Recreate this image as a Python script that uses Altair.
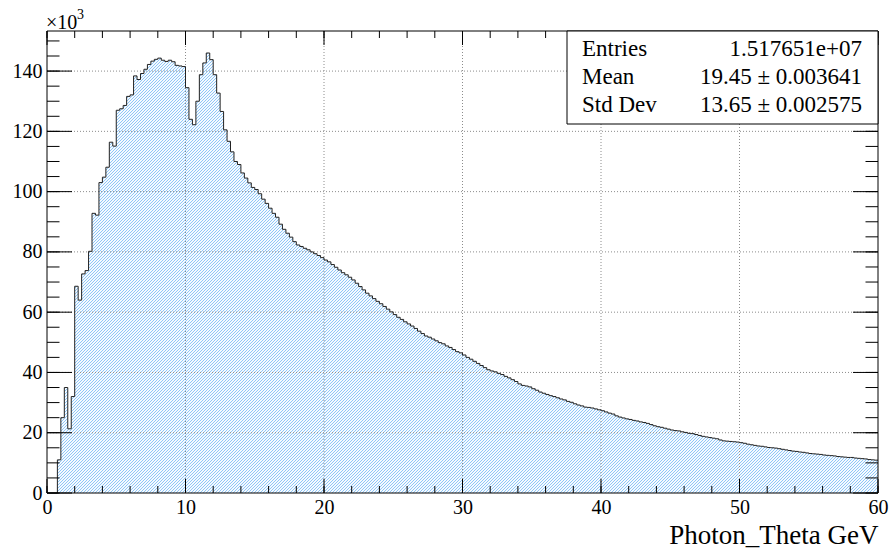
import altair as alt
import pandas as pd

# ---------------- data ----------------
bin_width = 0.25
x_min, x_max = 0.0, 60.0
y_top = 153300

# bin contents (thousands of entries), 240 bins of 0.25 from 0 to 60
counts_k = [
    0, 0, 0, 11.0, 25.0, 35.0, 21.3, 32.0, 68.6, 64.0,
    72.7, 73.8, 80.2, 92.8, 92.2, 103.0, 104.8, 108.1, 116.4, 115.1,
    127.0, 127.5, 128.6, 131.6, 132.1, 138.4, 137.2, 139.2, 140.6, 142.2,
    143.3, 143.9, 144.3, 143.6, 143.2, 143.6, 143.1, 141.9, 141.7, 141.5,
    134.5, 124.0, 122.2, 130.0, 138.8, 142.7, 146.0, 143.8, 138.8, 132.7,
    126.6, 120.5, 116.7, 113.2, 110.0, 109.0, 106.2, 104.5, 102.9, 101.4,
    100.7, 99.3, 97.5, 96.1, 94.5, 92.8, 91.5, 89.2, 87.5, 86.2,
    84.9, 83.4, 82.3, 81.8, 81.2, 80.7, 80.0, 79.4, 78.8, 78.1,
    77.3, 76.7, 75.8, 74.9, 74.0, 73.1, 72.4, 71.6, 70.7, 69.6,
    68.5, 67.4, 66.3, 65.4, 64.5, 63.6, 62.8, 61.9, 61.0, 60.1,
    59.2, 58.3, 57.6, 56.8, 56.1, 55.4, 54.6, 53.7, 52.9, 52.1,
    51.7, 51.1, 50.5, 49.9, 49.5, 48.8, 48.3, 47.6, 46.9, 46.5,
    45.8, 45.0, 44.4, 43.7, 43.0, 42.3, 41.6, 40.9, 40.5, 40.2,
    39.7, 39.3, 38.7, 38.2, 37.6, 37.0, 36.2, 35.7, 35.5, 35.2,
    34.6, 34.1, 33.5, 33.1, 32.7, 32.3, 32.0, 31.6, 31.2, 30.9,
    30.4, 30.1, 29.6, 29.2, 28.9, 28.5, 28.4, 28.2, 27.9, 27.6,
    27.3, 26.9, 26.5, 26.2, 25.6, 25.2, 24.9, 24.6, 24.4, 24.1,
    23.9, 23.6, 23.4, 23.1, 22.7, 22.3, 22.0, 21.8, 21.5, 21.2,
    20.9, 20.7, 20.6, 20.3, 20.1, 19.8, 19.7, 19.4, 19.1, 18.8,
    18.6, 18.4, 18.2, 18.0, 17.6, 17.3, 17.2, 17.1, 17.0, 16.9,
    16.7, 16.5, 16.2, 16.0, 15.8, 15.6, 15.5, 15.3, 15.1, 15.0,
    14.9, 14.7, 14.5, 14.3, 14.1, 13.9, 13.8, 13.6, 13.5, 13.3,
    13.1, 13.0, 12.9, 12.8, 12.6, 12.5, 12.4, 12.3, 12.1, 12.0,
    11.9, 11.8, 11.8, 11.6, 11.5, 11.4, 11.3, 11.1, 11.0, 10.9,
]

x_major = [0, 10, 20, 30, 40, 50, 60]
x_minor = list(range(0, 61, 2))
y_major = [0, 20000, 40000, 60000, 80000, 100000, 120000, 140000]
y_minor = list(range(0, 150001, 5000))
grid_x = [10, 20, 30, 40, 50]
grid_y = [20000, 40000, 60000, 80000, 100000, 120000, 140000]

stat_names = ["Entries", "Mean", "Std Dev"]
stat_values = ["1.517651e+07", "19.45 \u00b1 0.003641", "13.65 \u00b1 0.002575"]
x_title = "Photon_Theta GeV"
exp_base = "\u00d710"
exp_power = "3"

# ---------------- layout / style ----------------
W, H = 831, 462
FONT = "Liberation Serif"
HATCH = "#8fc6f6"
HATCH_BG = "#f5faff"
HATCH_STEP = 3  # px between hatch lines, measured horizontally

edges = [i * bin_width for i in range(len(counts_k))]
hist = pd.DataFrame({
    "x": edges + [x_max],
    "y": [c * 1000 for c in counts_k] + [counts_k[-1] * 1000],
})

xscale = alt.Scale(domain=[x_min, x_max], nice=False, zero=False)
yscale = alt.Scale(domain=[0, y_top], nice=False, zero=False)

x_axis = alt.Axis(values=x_major, ticks=False, domain=False, grid=False,
                  labelFont=FONT, labelFontSize=20, labelColor="black",
                  labelPadding=4, labelFlush=False, labelOverlap=False,
                  labelBound=False,
                  title=x_title, titleFont=FONT, titleFontSize=27,
                  titleFontWeight="normal", titleColor="black",
                  titleAnchor="end", titleAlign="right", titleX=W, titleY=50,
                  titleBaseline="alphabetic")
y_axis = alt.Axis(values=y_major, ticks=False, domain=False, grid=False,
                  labelFont=FONT, labelFontSize=20, labelColor="black",
                  labelPadding=5, labelFlush=False, labelOverlap=False,
                  labelExpr="format(datum.value / 1000, 'd')", title=None)

# fill-style hatch: a faint tint plus a texture of "///" strokes over the frame
# (pixel space), masked above the histogram by a white area
one = pd.DataFrame({"k": [0]})
tint = alt.Chart(one).mark_rect(color=HATCH_BG).encode(
    x=alt.value(0), x2=alt.value(W), y=alt.value(0), y2=alt.value(H))

offsets = list(range(-H, W + HATCH_STEP, HATCH_STEP))
hatch_df = pd.DataFrame({
    "hx": offsets, "hx2": [o + H for o in offsets],
})
hatch = alt.Chart(hatch_df).mark_rule(stroke=HATCH, strokeWidth=1, clip=True).encode(
    x=alt.X("hx:Q", scale=None), x2="hx2:Q",
    y=alt.value(H), y2=alt.value(0))

mask = alt.Chart(hist).mark_area(interpolate="step-after", color="white").encode(
    x=alt.X("x:Q", scale=xscale, axis=x_axis),
    y=alt.Y("y:Q", scale=yscale, axis=y_axis),
    y2=alt.datum(y_top),
)

grid_dash = [1, 2]
gx = alt.Chart(pd.DataFrame({"x": grid_x})).mark_rule(
    color="#8c8c8c", strokeWidth=1, strokeDash=grid_dash).encode(
    x="x:Q", y=alt.value(0), y2=alt.value(H))
gy = alt.Chart(pd.DataFrame({"y": grid_y})).mark_rule(
    color="#8c8c8c", strokeWidth=1, strokeDash=grid_dash).encode(
    y="y:Q", x=alt.value(0), x2=alt.value(W))

outline = alt.Chart(hist).mark_line(interpolate="step-after", color="#222222",
                                    strokeWidth=1).encode(x="x:Q", y="y:Q")

def xticks(vals, length):
    d = pd.DataFrame({"x": vals})
    bot = alt.Chart(d).mark_rule(color="black", strokeWidth=1).encode(
        x="x:Q", y=alt.value(H), y2=alt.value(H - length))
    top = alt.Chart(d).mark_rule(color="black", strokeWidth=1).encode(
        x="x:Q", y=alt.value(0), y2=alt.value(length))
    return [bot, top]

def yticks(vals, length):
    d = pd.DataFrame({"y": vals})
    left = alt.Chart(d).mark_rule(color="black", strokeWidth=1).encode(
        y="y:Q", x=alt.value(0), x2=alt.value(length))
    right = alt.Chart(d).mark_rule(color="black", strokeWidth=1).encode(
        y="y:Q", x=alt.value(W), x2=alt.value(W - length))
    return [left, right]

ticks = xticks(x_major, 14) + xticks(x_minor, 7) + yticks(y_major, 25) + yticks(y_minor, 12.5)

frame = alt.Chart(one).mark_rect(filled=False, stroke="black", strokeWidth=1).encode(
    x=alt.value(0), x2=alt.value(W), y=alt.value(0), y2=alt.value(H))

box_left, box_bottom = 520, 93
stat_box = alt.Chart(one).mark_rect(fill="white", stroke="black", strokeWidth=1).encode(
    x=alt.value(box_left), x2=alt.value(W), y=alt.value(0), y2=alt.value(box_bottom))

row_y = [25, 53, 81]
stat_texts = []
for name, val, yy in zip(stat_names, stat_values, row_y):
    stat_texts.append(alt.Chart(pd.DataFrame({"t": [name]})).mark_text(
        font=FONT, fontSize=23, align="left", baseline="alphabetic", color="black").encode(
        text="t:N", x=alt.value(535), y=alt.value(yy)))
    stat_texts.append(alt.Chart(pd.DataFrame({"t": [val]})).mark_text(
        font=FONT, fontSize=23, align="right", baseline="alphabetic", color="black").encode(
        text="t:N", x=alt.value(815), y=alt.value(yy)))

exp1 = alt.Chart(pd.DataFrame({"t": [exp_base]})).mark_text(
    font=FONT, fontSize=20, align="left", baseline="alphabetic", color="black").encode(
    text="t:N", x=alt.value(-1), y=alt.value(-2))
exp2 = alt.Chart(pd.DataFrame({"t": [exp_power]})).mark_text(
    font=FONT, fontSize=14, align="left", baseline="alphabetic", color="black").encode(
    text="t:N", x=alt.value(30), y=alt.value(-12))

chart = alt.layer(
    tint, hatch, mask, gx, gy, outline, *ticks, frame, stat_box, *stat_texts, exp1, exp2
).properties(
    width=W, height=H,
    autosize=alt.AutoSizeParams(type="none"),
    padding={"left": 47, "top": 31, "right": 893 - 47 - W, "bottom": 549 - 31 - H},
).configure_view(stroke=None)

chart.save("out.html", embed_options={"renderer": "svg", "actions": False})
